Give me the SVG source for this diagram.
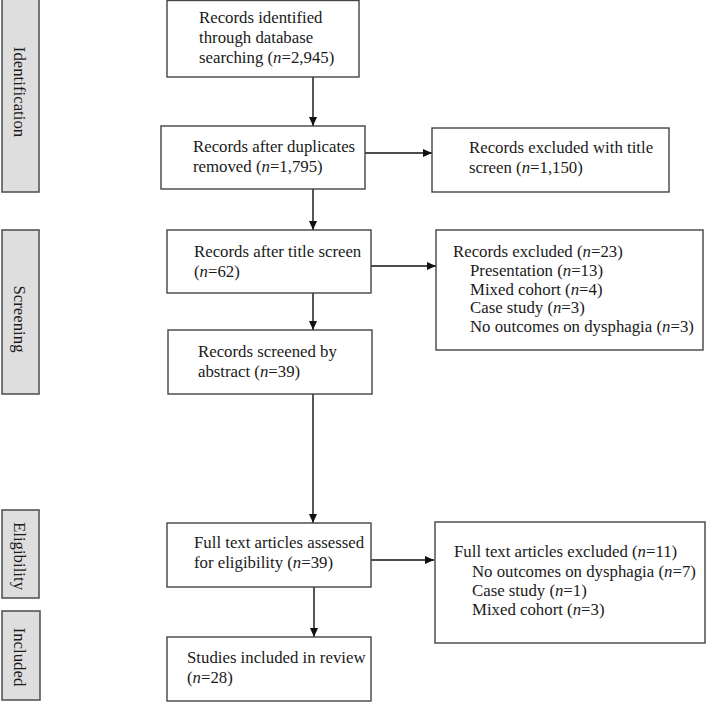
<svg xmlns="http://www.w3.org/2000/svg" width="713" height="723" viewBox="0 0 713 723">
<style>
text{font-family:"Liberation Serif","Times New Roman",serif;font-size:16.8px;fill:#1a1a1a}
.i{font-style:italic}
.box{fill:#fff;stroke:#444;stroke-width:1.4}
.side{fill:#dedede;stroke:#555;stroke-width:1.6}
.con{stroke:#111;stroke-width:1.4;fill:none}
.v{text-anchor:middle}
</style>
<defs>
<marker id="ah" markerUnits="userSpaceOnUse" markerWidth="10" markerHeight="10" refX="9" refY="4" orient="auto">
<path d="M0,0 L9,4 L0,8 Z" fill="#111"/>
</marker>
</defs>
<rect width="713" height="723" fill="#fff"/>

<g id="phase-identification">
<rect class="side" x="2" y="-1" width="37" height="193"/>
<text class="v" transform="translate(20,92) rotate(90)" dy="0.33em">Identification</text>
</g>
<g id="phase-screening">
<rect class="side" x="2" y="230" width="37" height="164"/>
<text class="v" transform="translate(20,319) rotate(90)" dy="0.33em">Screening</text>
</g>
<g id="phase-eligibility">
<rect class="side" x="2" y="510" width="37" height="88"/>
<text class="v" transform="translate(20,556) rotate(90)" dy="0.33em">Eligibility</text>
</g>
<g id="phase-included">
<rect class="side" x="2" y="611" width="38" height="89"/>
<text class="v" transform="translate(20,657) rotate(90)" dy="0.33em">Included</text>
</g>

<g id="connectors">
<line class="con" x1="313" y1="77" x2="313" y2="126" marker-end="url(#ah)"/>
<line class="con" x1="313" y1="189" x2="313" y2="230" marker-end="url(#ah)"/>
<line class="con" x1="313" y1="293" x2="313" y2="330" marker-end="url(#ah)"/>
<line class="con" x1="313" y1="394" x2="313" y2="523" marker-end="url(#ah)"/>
<line class="con" x1="314" y1="587" x2="314" y2="637" marker-end="url(#ah)"/>
<line class="con" x1="365" y1="153" x2="432" y2="153" marker-end="url(#ah)"/>
<line class="con" x1="371" y1="266" x2="436" y2="266" marker-end="url(#ah)"/>
<line class="con" x1="368" y1="560" x2="434" y2="560" marker-end="url(#ah)"/>
</g>

<g id="identified">
<rect class="box" x="167" y="0.5" width="192" height="76.5"/>
<text x="199" y="23">Records identified</text>
<text x="199" y="43">through database</text>
<text x="199" y="63">searching (<tspan class="i">n</tspan>=2,945)</text>
</g>
<g id="duplicates-removed">
<rect class="box" x="161" y="126" width="204" height="63"/>
<text x="193" y="152">Records after duplicates</text>
<text x="193" y="172">removed (<tspan class="i">n</tspan>=1,795)</text>
</g>
<g id="excluded-title">
<rect class="box" x="432" y="128" width="237" height="64"/>
<text x="469" y="153">Records excluded with title</text>
<text x="469" y="173">screen (<tspan class="i">n</tspan>=1,150)</text>
</g>
<g id="after-title-screen">
<rect class="box" x="167" y="230" width="204" height="63"/>
<text x="194" y="257">Records after title screen</text>
<text x="194" y="277">(<tspan class="i">n</tspan>=62)</text>
</g>
<g id="excluded-23">
<rect class="box" x="436" y="230" width="267" height="120"/>
<text x="453" y="257">Records excluded (<tspan class="i">n</tspan>=23)</text>
<text x="470" y="276">Presentation (<tspan class="i">n</tspan>=13)</text>
<text x="470" y="295">Mixed cohort (<tspan class="i">n</tspan>=4)</text>
<text x="470" y="313">Case study (<tspan class="i">n</tspan>=3)</text>
<text x="470" y="332">No outcomes on dysphagia (<tspan class="i">n</tspan>=3)</text>
</g>
<g id="screened-abstract">
<rect class="box" x="168" y="330" width="204" height="64"/>
<text x="198" y="357">Records screened by</text>
<text x="198" y="377">abstract (<tspan class="i">n</tspan>=39)</text>
</g>
<g id="full-text-assessed">
<rect class="box" x="167" y="523" width="204" height="64"/>
<text x="194" y="548">Full text articles assessed</text>
<text x="194" y="568">for eligibility (<tspan class="i">n</tspan>=39)</text>
</g>
<g id="full-text-excluded">
<rect class="box" x="435" y="522" width="270" height="121"/>
<text x="454" y="557">Full text articles excluded (<tspan class="i">n</tspan>=11)</text>
<text x="472" y="577">No outcomes on dysphagia (<tspan class="i">n</tspan>=7)</text>
<text x="472" y="596">Case study (<tspan class="i">n</tspan>=1)</text>
<text x="472" y="615">Mixed cohort (<tspan class="i">n</tspan>=3)</text>
</g>
<g id="included-studies">
<rect class="box" x="167" y="637" width="204" height="64"/>
<text x="187" y="663">Studies included in review</text>
<text x="187" y="683">(<tspan class="i">n</tspan>=28)</text>
</g>
</svg>
